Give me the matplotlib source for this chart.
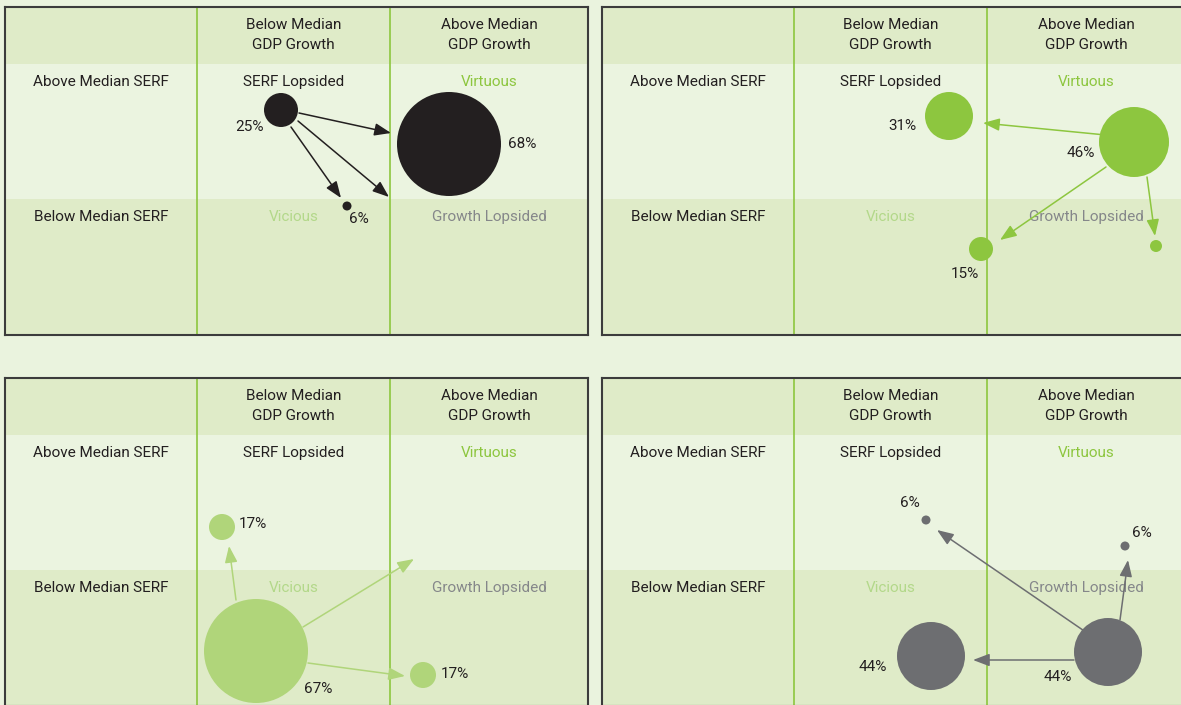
import matplotlib
matplotlib.use("Agg")
import matplotlib.pyplot as plt
from matplotlib.patches import Circle, Rectangle

plt.rcParams['font.family'] = ['Roboto', 'DejaVu Sans']

# panel layout, in pixels inside each panel
PW, PH = 583, 328
col_edges = [0, 192, 385, PW]
row_edges = [0, 57, 192, PH]

col_heads = ["Below Median\nGDP Growth", "Above Median\nGDP Growth"]
row_heads = ["Above Median SERF", "Below Median SERF"]
quadrants = ["SERF Lopsided", "Virtuous", "Vicious", "Growth Lopsided"]
quad_colors = ["#231f20", "#8dc63f", "#b3d88a", "#85878a"]

panel_colors = ["#231f20", "#8dc63f", "#b0d57a", "#6d6e71"]

# bubbles: centre x, centre y, radius
p1_x = [276, 444, 342]
p1_y = [103, 137, 199]
p1_r = [17, 52, 4.5]
p2_x = [347, 532, 379, 554]
p2_y = [109, 135, 242, 239]
p2_r = [24, 35, 12, 6]
p3_x = [217, 251, 418]
p3_y = [149, 273, 297]
p3_r = [13, 52, 13]
p4_x = [324, 523, 329, 506]
p4_y = [142, 168, 278, 274]
p4_r = [4.5, 4.5, 34, 34]

# percentage labels
p1_labels = ["25%", "68%", "6%"]
p1_lx = [245, 517, 354]
p1_ly = [120, 137, 212]
p2_labels = ["31%", "46%", "15%"]
p2_lx = [300, 479, 363]
p2_ly = [119, 146, 267]
p3_labels = ["17%", "67%", "17%"]
p3_lx = [248, 313, 450]
p3_ly = [146, 311, 296]
p4_labels = ["6%", "6%", "44%", "44%"]
p4_lx = [308, 540, 271, 456]
p4_ly = [125, 155, 289, 299]

# transitions: start x, start y, end x, end y
p1_arrows = [(294, 106, 386, 126), (293, 114, 384, 190), (286, 120, 336, 191)]
p2_arrows = [(514, 129, 381, 116), (504, 160, 398, 233), (545, 170, 553, 229)]
p3_arrows = [(231, 222, 224, 168), (298, 249, 409, 181), (303, 285, 400, 298)]
p4_arrows = [(491, 259, 335, 152), (518, 242, 526, 182), (472, 282, 371, 282)]

panels = [
    (5, 7, p1_x, p1_y, p1_r, p1_labels, p1_lx, p1_ly, p1_arrows),
    (602, 7, p2_x, p2_y, p2_r, p2_labels, p2_lx, p2_ly, p2_arrows),
    (5, 378, p3_x, p3_y, p3_r, p3_labels, p3_lx, p3_ly, p3_arrows),
    (602, 378, p4_x, p4_y, p4_r, p4_labels, p4_lx, p4_ly, p4_arrows),
]

W, H = 1181, 705
fig = plt.figure(figsize=(W / 100, H / 100), dpi=100)
fig.patch.set_facecolor("#eaf3de")

dark_band = "#dfebc8"
light_band = "#ebf4e0"
txt = "#231f20"
fs = 11

for i, (left, top, xs, ys, rs, labs, lx, ly, arrows) in enumerate(panels):
    ax = fig.add_axes([left / W, (H - top - PH) / H, PW / W, PH / H])
    ax.set_xlim(0, PW)
    ax.set_ylim(PH, 0)
    ax.set_xticks([])
    ax.set_yticks([])
    for s in ax.spines.values():
        s.set_color("#3c3c3c")
        s.set_linewidth(1.5)
        s.set_zorder(10)

    bands = [dark_band, light_band, dark_band]
    for j in range(3):
        ax.add_patch(Rectangle((0, row_edges[j]), PW, row_edges[j + 1] - row_edges[j],
                               facecolor=bands[j], edgecolor="none", zorder=0))
    for xv in col_edges[1:3]:
        ax.plot([xv, xv], [0, PH], color="#8dc63f", lw=1.2, zorder=1)

    cx = [(col_edges[k] + col_edges[k + 1]) / 2 for k in range(3)]
    for k, t in enumerate(col_heads):
        ax.text(cx[k + 1], 28, t, ha="center", va="center", fontsize=fs, color=txt,
                linespacing=1.55, zorder=2)
    for k, t in enumerate(row_heads):
        ax.text(cx[0], row_edges[k + 1] + 18, t, ha="center", va="center",
                fontsize=fs, color=txt, zorder=2)
    for k, t in enumerate(quadrants):
        ax.text(cx[1 + k % 2], row_edges[1 + k // 2] + 18, t, ha="center", va="center",
                fontsize=fs, color=quad_colors[k], zorder=2)

    col = panel_colors[i]
    for x, y, r in zip(xs, ys, rs):
        ax.add_patch(Circle((x, y), r, facecolor=col, edgecolor="none", zorder=4))
    for t, x, y in zip(labs, lx, ly):
        ax.text(x, y, t, ha="center", va="center", fontsize=fs, color=txt, zorder=5)
    for (x0, y0, x1, y1) in arrows:
        ax.annotate("", xy=(x1, y1), xytext=(x0, y0),
                    arrowprops=dict(arrowstyle="-|>,head_length=1.0,head_width=0.38",
                                    color=col, lw=1.1, mutation_scale=10,
                                    shrinkA=0, shrinkB=0), zorder=3)

fig.savefig("out.png", dpi=100, facecolor=fig.get_facecolor())
